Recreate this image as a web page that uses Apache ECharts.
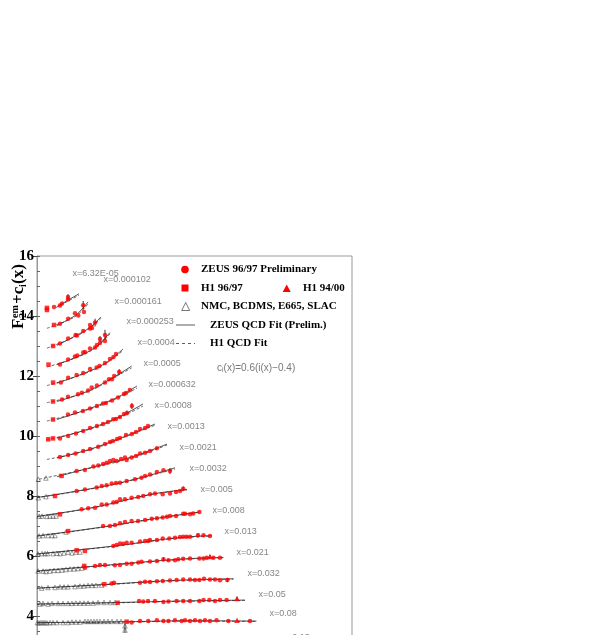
<!DOCTYPE html>
<html><head><meta charset="utf-8">
<script src="https://cdn.jsdelivr.net/npm/echarts@6/dist/echarts.min.js"></script>
<style>html,body{margin:0;padding:0;background:#fff}#c{width:595px;height:635px}</style>
</head><body><div id="c"></div>
<script>
// x-bin labels (top to bottom)
const binLabels = ['6.32E-05','0.000102','0.000161','0.000253','0.0004','0.0005','0.000632','0.0008','0.0013','0.0021','0.0032','0.005','0.008','0.013','0.021','0.032','0.05','0.08','0.13'];
// label anchor [Q2, F2+c] for each bin label
const labelAnchors = [[5.01,15.43],[20.9,15.2],[34.7,14.47],[60.3,13.8],[100,13.1],[132,12.4],[166,11.7],[219,11.03],[398,10.33],[692,9.63],[1096,8.93],[1820,8.23],[3162,7.53],[5495,6.83],[9550,6.13],[15850,5.43],[26300,4.73],[43650,4.07],[79430,3.27]];

// ZEUS QCD fit (solid), one curve per x bin: [Q2, F2+c]
const zeusFits = [
 [[2.6,14.32],[4.2,14.53],[6.9,14.74]],
 [[2.5,13.68],[4.2,13.88],[6.5,14.08],[10.5,14.47]],
 [[2.5,13.02],[5.75,13.33],[11.5,13.62],[19,13.97]],
 [[2.5,12.38],[6.3,12.64],[14.5,12.95],[28.8,13.45]],
 [[2.5,11.76],[8.4,12.08],[23,12.42],[52.5,12.9]],
 [[2.5,11.15],[10.5,11.5],[35,11.97],[78,12.33]],
 [[2.5,10.55],[11.5,10.92],[41.7,11.3],[100,11.67]],
 [[2.5,9.93],[11.5,10.25],[45.7,10.65],[132,11.07]],
 [[2.5,9.27],[11.5,9.56],[60,10.0],[229,10.4]],
 [[2.5,8.64],[13.4,8.97],[78,9.3],[398,9.73]],
 [[1.0,7.95],[15.6,8.28],[91,8.56],[575,8.94]],
 [[1.0,7.32],[14.5,7.63],[182,8.05],[1000,8.22]],
 [[1.0,6.67],[21,6.97],[250,7.26],[1820,7.47]],
 [[1.0,6.07],[33.6,6.33],[575,6.6],[3100,6.68]],
 [[1.0,5.5],[22.9,5.69],[840,5.9],[5300,5.95]],
 [[1.0,4.93],[22,5.05],[457,5.18],[8500,5.24]],
 [[1.0,4.4],[41,4.45],[840,4.5],[14450,4.53]],
 [[1.0,3.78],[62,3.81],[1148,3.84],[24500,3.83]]
];
// H1 QCD fit (dashed)
const h1Fits = [
 [[2.4,14.28],[4.2,14.50],[6.9,14.69]],
 [[1.58,13.59],[4.2,13.86],[6.5,14.04],[10.5,14.40]],
 [[1.58,12.93],[5.75,13.31],[11.5,13.6],[19,13.92]],
 [[1.58,12.3],[6.3,12.62],[14.5,12.93],[28.8,13.40]],
 [[1.58,11.68],[8.4,12.06],[23,12.40],[52.5,12.85]],
 [[1.58,11.11],[10.5,11.48],[35,11.95],[78,12.27]],
 [[1.58,10.5],[11.5,10.9],[41.7,11.27],[100,11.6]],
 [[1.58,9.88],[11.5,10.23],[45.7,10.62],[132,11.0]],
 [[1.58,9.22],[11.5,9.54],[60,9.98],[229,10.36]],
 [[1.1,8.56],[13.4,8.95],[78,9.27],[398,9.7]],
 [[1.0,7.94],[15.6,8.27],[91,8.55],[575,8.9]],
 [[1.0,7.31],[14.5,7.62],[182,8.04],[1000,8.2]],
 [[1.0,6.66],[21,6.96],[250,7.25],[1820,7.46]],
 [[1.0,6.06],[33.6,6.32],[575,6.59],[3100,6.66]],
 [[1.0,5.49],[22.9,5.68],[840,5.89],[5300,5.94]],
 [[1.0,4.92],[22,5.04],[457,5.17],[8500,5.23]],
 [[1.0,4.39],[41,4.44],[840,4.49],[14450,4.52]],
 [[1.0,3.77],[62,3.8],[1148,3.83],[24500,3.82]]
];

// ZEUS 96/97 preliminary points [Q2, F2+c]
const zeusPoints = [
 [2.19,14.30],[2.88,14.35],[3.16,14.42],[4.17,14.63],[4.17,14.55],
 [2.88,13.74],[4.2,13.91],[5.75,14.09],[6.7,14.02],[8.4,14.36],[8.7,14.13],
 [2.88,13.08],[4.2,13.25],[5.9,13.37],[6.3,13.35],[8.4,13.5],[11.5,13.58],[12.6,13.6],[11.5,13.7],[14.5,13.78],
 [2.88,12.38],[4.2,12.55],[5.75,12.65],[6.4,12.68],[8.4,12.78],[9.1,12.8],[11.5,12.92],[14.5,12.95],[15.8,13.03],[18.2,13.1],[22.9,13.17],[18.2,13.23],[22.9,13.37],
 [3.0,11.78],[4.2,11.94],[6.2,12.03],[8.4,12.1],[11.5,12.23],[15.6,12.28],[17.8,12.33],[22.9,12.43],[28.8,12.57],[33.8,12.63],[38,12.73],
 [3.16,11.22],[4.17,11.31],[6.6,11.39],[7.9,11.44],[10.5,11.52],[12.4,11.62],[15.8,11.68],[22.9,11.78],[27.5,11.89],[31.6,11.89],[35,12.0],[44,12.13],
 [4.17,10.72],[5.75,10.78],[8.3,10.83],[11.5,10.92],[15.8,11.0],[20.9,11.08],[24,11.1],[31.6,11.18],[41.7,11.28],[55,11.4],[60,11.43],[72,11.53],
 [2.88,9.92],[4.2,10.0],[6.0,10.08],[8.4,10.17],[11.5,10.27],[15.8,10.33],[20.9,10.4],[26.3,10.47],[33.5,10.56],[38,10.57],[45.7,10.63],[55,10.73],[63,10.77],[79,11.0],
 [2.88,9.3],[4.2,9.37],[5.9,9.42],[8.4,9.5],[11.5,9.57],[16.8,9.64],[22.9,9.73],[28.8,9.8],[33,9.83],[40,9.9],[45.7,9.93],[60.3,10.03],[79,10.07],[95.5,10.13],[115,10.23],[145,10.27],[166,10.33],
 [6.2,8.83],[9.1,8.87],[13.4,8.98],[16.8,9.02],[21,9.07],[24.7,9.11],[28.8,9.17],[33.6,9.2],[39,9.17],[48,9.23],[57.5,9.28],[62,9.2],[78,9.28],[95.5,9.33],[115,9.42],[145,9.44],[182,9.5],[250,9.59],
 [6.2,8.17],[9.1,8.22],[15.6,8.28],[19.7,8.33],[24.7,8.36],[31.2,8.42],[38,8.43],[45.7,8.44],[62,8.5],[91,8.56],[123,8.61],[145,8.67],[182,8.72],[250,8.8],[338,8.86],[457,8.83],
 [7.8,7.56],[10.6,7.59],[14.5,7.61],[19.7,7.72],[24.7,7.72],[33.6,7.78],[39,7.8],[45.7,7.89],[57.5,7.89],[78,7.94],[106,7.97],[133,8.0],[182,8.06],[229,8.08],[327,8.06],[457,8.08],[603,8.13],[724,8.17],[840,8.24],
 [21,7.0],[28.8,7.0],[36.3,7.03],[45.7,7.09],[57.5,7.13],[78,7.17],[105,7.17],[145,7.2],[197,7.24],[250,7.26],[327,7.28],[398,7.31],[457,7.33],[603,7.33],[840,7.41],[912,7.41],[1148,7.39],[1330,7.42],[1770,7.47],
 [33.6,6.33],[39,6.37],[45.7,6.42],[53,6.41],[62,6.44],[78,6.44],[115,6.48],[145,6.5],[168,6.5],[182,6.53],[250,6.53],[327,6.58],[443,6.58],[575,6.61],[724,6.63],[840,6.64],[977,6.64],[1148,6.64],[1660,6.69],[2140,6.69],[2880,6.67],
 [9.1,5.61],[14.5,5.67],[18.2,5.7],[22.9,5.7],[36,5.69],[45.7,5.7],[62,5.74],[78,5.74],[106,5.78],[123,5.81],[182,5.82],[250,5.83],[338,5.89],[426,5.86],[575,5.86],[670,5.89],[840,5.91],[1148,5.92],[1770,5.92],[2140,5.92],[2480,5.94],[3370,5.94],[4570,5.94],
 [31,5.08],[34.7,5.11],[115,5.11],[145,5.14],[182,5.13],[250,5.16],[327,5.17],[457,5.18],[620,5.2],[840,5.22],[1148,5.22],[1445,5.2],[1770,5.2],[2190,5.24],[2880,5.22],[3630,5.22],[4570,5.19],[6400,5.2],
 [110,4.5],[133,4.48],[166,4.5],[229,4.5],[338,4.47],[426,4.48],[620,4.5],[840,4.5],[1148,4.5],[1770,4.5],[2140,4.53],[2800,4.53],[3630,4.5],[4570,4.53],[6200,4.53],
 [78,3.78],[115,3.83],[168,3.83],[250,3.86],[338,3.83],[426,3.83],[575,3.86],[780,3.83],[912,3.86],[1148,3.83],[1445,3.86],[1820,3.83],[2290,3.86],[2880,3.83],[3900,3.86],[6700,3.83],[18200,3.83]
];
// H1 96/97 points
const h1Points9697 = [[1.58,14.27],[1.58,14.2],[2.19,13.70],[2.1,13.0],[1.70,12.38],[2.1,11.78],[2.09,11.15],[2.09,10.55],[1.68,9.89],[2.09,9.92],[3.1,8.67],[2.29,8.0],[2.88,7.39],[4.2,6.83],[6.2,6.19],[9.1,6.17],[8.8,5.67],[22.2,5.06],[41,4.44],[62,3.81]];
// H1 94/00 points
const h1Points9400 = [[2880,5.98],[10000,4.58],[10000,3.86]];
// NMC, BCDMS, E665, SLAC points
const fixedTargetPoints = [
 [1.06,8.56],[1.51,8.6],
 [1.06,7.94],[1.51,7.98],
 [1.1,7.33],[1.26,7.33],[1.58,7.32],[1.82,7.33],[2.09,7.33],[2.4,7.33],
 [1.1,6.67],[1.32,6.68],[1.66,6.68],[2.0,6.68],[2.29,6.68],[3.8,6.8],
 [1.05,6.07],[1.26,6.08],[1.45,6.08],[1.62,6.08],[2.09,6.08],[2.51,6.09],[2.88,6.08],[3.47,6.1],[4.17,6.13],[5.0,6.1],[6.0,6.13],[7.24,6.13],
 [1.05,5.5],[1.32,5.5],[1.51,5.48],[1.82,5.5],[2.19,5.52],[2.63,5.52],[3.16,5.53],[3.8,5.55],[4.57,5.57],[5.5,5.57],[6.6,5.58],[7.94,5.6],
 [1.24,4.93],[1.66,4.95],[2.29,4.95],[2.88,4.97],[3.47,4.97],[4.17,4.97],[5.75,4.98],[7.24,5.0],[8.7,5.0],[10.5,5.02],[12.6,5.02],[15.1,5.02],[19.7,5.03],
 [1.15,4.4],[1.32,4.42],[1.66,4.4],[2.0,4.42],[2.63,4.42],[3.31,4.42],[4.17,4.42],[5.0,4.42],[6.0,4.43],[7.24,4.43],[8.7,4.43],[10.5,4.43],[13.2,4.43],[16.6,4.45],[21.9,4.45],[28.8,4.45],[36.3,4.45],
 [1.02,3.78],[1.1,3.77],[1.2,3.78],[1.32,3.78],[1.45,3.78],[1.58,3.77],[1.82,3.78],[2.09,3.78],[2.51,3.78],[3.31,3.78],[4.17,3.78],[5.0,3.8],[6.0,3.8],[7.24,3.8],[9.1,3.82],[10.5,3.82],[12,3.82],[13.8,3.82],[15.8,3.82],[18.2,3.82],[21.9,3.82],[26.3,3.82],[31.6,3.82],[39.8,3.82],[47.9,3.82],[57.5,3.67],[57.5,3.53]
];
// error bars [Q2, low, high]
const errorBars = [[4.17,14.53,14.73],[8.4,14.22,14.5],[14.5,13.65,13.91],[18.2,13.13,13.33],[22.9,13.2,13.54],[44,12.03,12.23],[63,10.69,10.85],[79,10.9,11.1],[457,8.73,8.93],[840,8.16,8.32],[1660,6.62,6.76],[338,5.82,5.96],[6400,5.13,5.27],[57.5,3.45,3.75],[10000,4.52,4.64],[2880,5.92,6.04]];

const SERIF = '"Liberation Serif","Times New Roman",serif';
const SANS = '"Liberation Sans",Arial,sans-serif';

const chart = echarts.init(document.getElementById('c'), null, {renderer:'canvas', width:595, height:635});

const series = [];
zeusFits.forEach(d => series.push({type:'line', data:d, smooth:0.4, symbol:'none', silent:true, z:2,
  lineStyle:{color:'#000', width:0.7}}));
h1Fits.forEach(d => series.push({type:'line', data:d, smooth:0.4, symbol:'none', silent:true, z:2,
  lineStyle:{color:'#222', width:0.7, type:[3,2]}}));
series.push({type:'custom', z:3, silent:true, data:errorBars, encode:{x:0, y:[1,2]},
  renderItem:(params, api) => {
    const a = api.coord([api.value(0), api.value(1)]);
    const b = api.coord([api.value(0), api.value(2)]);
    return {type:'line', shape:{x1:a[0], y1:a[1], x2:b[0], y2:b[1]}, style:{stroke:'#000', lineWidth:0.8}};
  }});
series.push({type:'scatter', data:fixedTargetPoints, symbol:'triangle', symbolSize:4.5, z:4,
  itemStyle:{color:'rgba(0,0,0,0)', borderColor:'#333', borderWidth:0.6}});
series.push({type:'scatter', data:zeusPoints, symbol:'circle', symbolSize:4.5, z:5, itemStyle:{color:'#ff0000'}});
series.push({type:'scatter', data:h1Points9697, symbol:'rect', symbolSize:4.5, z:5, itemStyle:{color:'#ff0000'}});
series.push({type:'scatter', data:h1Points9400, symbol:'triangle', symbolSize:5.5, z:5, itemStyle:{color:'#ff0000'}});
series.push({type:'scatter', z:6, silent:true, symbol:'circle', symbolSize:1,
  itemStyle:{color:'rgba(0,0,0,0)'},
  data: labelAnchors.map((p,i) => ({value:p, name:'x=' + binLabels[i]})),
  label:{show:true, position:'right', distance:0, formatter:'{b}', color:'#666', fontSize:9, fontFamily:SANS}});

const legendFont = 'bold 11px ' + SERIF;
const titleFont = 'bold 17px ' + SERIF;
const smallFont = 'bold 10px ' + SERIF;

chart.setOption({
  animation:false,
  backgroundColor:'#fff',
  grid:{left:37, top:256, width:315, height:480, outerBoundsMode:'none', containLabel:false, show:true, borderColor:'#999', borderWidth:1},
  xAxis:{type:'log', logBase:10, min:1, max:1995262, axisLabel:{show:false}, axisTick:{show:false}, axisLine:{show:false}, splitLine:{show:false}},
  yAxis:[
    {type:'value', min:0, max:16, interval:2, position:'left',
     axisLine:{show:true, lineStyle:{color:'#999', width:1}},
     axisTick:{show:true, inside:false, length:4, lineStyle:{color:'#444'}},
     axisLabel:{color:'#000', fontFamily:SERIF, fontWeight:'bold', fontSize:15, margin:3},
     splitLine:{show:false}},
    {type:'value', min:0, max:16, interval:0.5, position:'left',
     axisLine:{show:false}, axisLabel:{show:false}, splitLine:{show:false},
     axisTick:{show:true, inside:true, length:3, lineStyle:{color:'#666'}}}
  ],
  series: series,
  graphic:[
    {type:'group', x:19, y:329, rotation:Math.PI/2, children:[
      {type:'text', x:0, y:0, style:{text:'F', font:titleFont, fill:'#000', verticalAlign:'middle', textVerticalAlign:'middle'}},
      {type:'text', x:11, y:-4, style:{text:'em', font:smallFont, fill:'#000', verticalAlign:'middle', textVerticalAlign:'middle'}},
      {type:'text', x:11, y:4, style:{text:'2', font:smallFont, fill:'#000', verticalAlign:'middle', textVerticalAlign:'middle'}},
      {type:'text', x:25, y:0, style:{text:'+c', font:titleFont, fill:'#000', verticalAlign:'middle', textVerticalAlign:'middle'}},
      {type:'text', x:42, y:4, style:{text:'i', font:smallFont, fill:'#000', verticalAlign:'middle', textVerticalAlign:'middle'}},
      {type:'text', x:45, y:0, style:{text:'(x)', font:titleFont, fill:'#000', verticalAlign:'middle', textVerticalAlign:'middle'}}
    ]},
    {type:'circle', shape:{cx:185, cy:269.5, r:3.8}, style:{fill:'#ff0000'}},
    {type:'text', x:201, y:269.5, style:{text:'ZEUS 96/97 Preliminary', font:legendFont, fill:'#000', verticalAlign:'middle', textVerticalAlign:'middle'}},
    {type:'rect', shape:{x:181.5, y:284.5, width:7, height:7}, style:{fill:'#ff0000'}},
    {type:'text', x:201, y:288, style:{text:'H1 96/97', font:legendFont, fill:'#000', verticalAlign:'middle', textVerticalAlign:'middle'}},
    {type:'polygon', shape:{points:[[282.7,292],[290.7,292],[286.7,284.5]]}, style:{fill:'#ff0000'}},
    {type:'text', x:303, y:288, style:{text:'H1 94/00', font:legendFont, fill:'#000', verticalAlign:'middle', textVerticalAlign:'middle'}},
    {type:'polygon', shape:{points:[[181.7,310.5],[189.7,310.5],[185.7,302.5]]}, style:{fill:'none', stroke:'#555', lineWidth:0.8}},
    {type:'text', x:201, y:306.5, style:{text:'NMC, BCDMS, E665, SLAC', font:legendFont, fill:'#000', verticalAlign:'middle', textVerticalAlign:'middle'}},
    {type:'line', shape:{x1:176, y1:325, x2:195, y2:325}, style:{stroke:'#333', lineWidth:0.8}},
    {type:'text', x:210, y:325, style:{text:'ZEUS QCD Fit (Prelim.)', font:legendFont, fill:'#000', verticalAlign:'middle', textVerticalAlign:'middle'}},
    {type:'line', shape:{x1:176, y1:343.5, x2:195, y2:343.5}, style:{stroke:'#333', lineWidth:0.8, lineDash:[3,3]}},
    {type:'text', x:210, y:343.5, style:{text:'H1 QCD Fit', font:legendFont, fill:'#000', verticalAlign:'middle', textVerticalAlign:'middle'}},
    {type:'text', x:217, y:368, style:{text:'{a|c}{b|i}{a|(x)=0.6(i(x)\u22120.4)}', verticalAlign:'middle', textVerticalAlign:'middle',
      rich:{a:{fontSize:10, fontFamily:SANS, fill:'#777', color:'#777', lineHeight:12, verticalAlign:'middle'},
            b:{fontSize:7, fontFamily:SANS, fill:'#777', color:'#777', lineHeight:12, verticalAlign:'bottom'}}}}
  ]
});
</script>
</body></html>
